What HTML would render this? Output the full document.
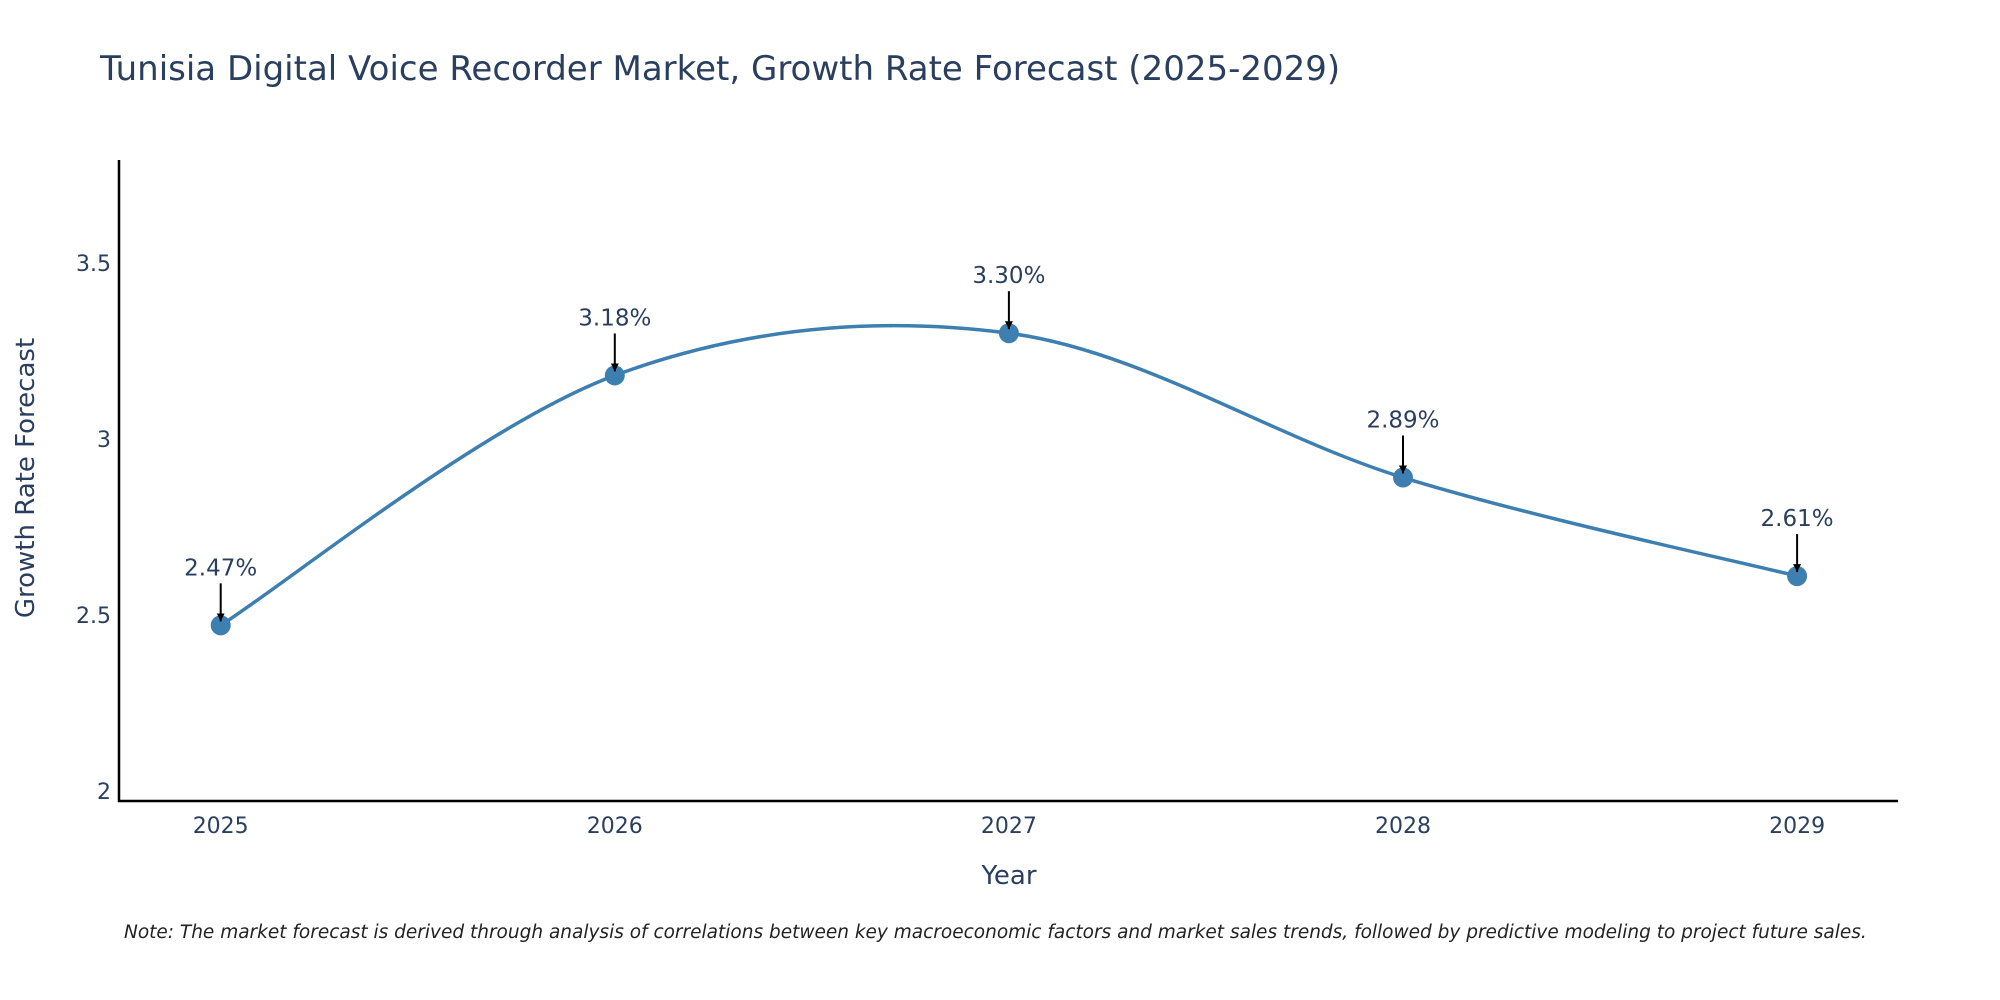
<!DOCTYPE html>
<html><head><meta charset="utf-8"><style>
html,body{margin:0;padding:0;background:#fff}
svg{display:block;font-family:"DejaVu Sans","Liberation Sans",sans-serif}
</style></head><body>
<svg id="chart" width="2000" height="1000" viewBox="0 0 2000 1000">
<text x="100" y="80" font-size="34" fill="#2a3f5f">Tunisia Digital Voice Recorder Market, Growth Rate Forecast (2025-2029)</text>
<g id="yticks"></g>
<g id="xticks"></g>
<line x1="119" y1="160" x2="119" y2="802" stroke="#000" stroke-width="2.5"/>
<line x1="118" y1="801" x2="1898" y2="801" stroke="#000" stroke-width="2.5"/>
<path id="line" fill="none" stroke="#3d7fb0" stroke-width="3.5"/>
<g id="marks"></g>
<text x="1009" y="884" font-size="26" fill="#2a3f5f" text-anchor="middle">Year</text>
<text x="34" y="478" font-size="26" fill="#2a3f5f" text-anchor="middle" transform="rotate(-90 34 478)">Growth Rate Forecast</text>
<text x="124" y="938" font-size="18.5" font-style="italic" fill="#222">Note: The market forecast is derived through analysis of correlations between key macroeconomic factors and market sales trends, followed by predictive modeling to project future sales.</text>
<defs><marker id="ah" viewBox="0 0 10 10" refX="10" refY="5" markerWidth="8" markerHeight="8" markerUnits="userSpaceOnUse" orient="auto"><path d="M0,0L10,5L0,10z" fill="#000"/></marker></defs>
</svg>
<script>
const years=[2025,2026,2027,2028,2029];
const values=[2.47,3.18,3.30,2.89,2.61];
const labels=["2.47%","3.18%","3.30%","2.89%","2.61%"];
const yTicks=[2,2.5,3,3.5];
const yTickLabels=["2","2.5","3","3.5"];
const NS="http://www.w3.org/2000/svg";
const X=v=>220.7+(v-2025)*394.1;
const Y=v=>790.8-(v-2)*352;
function mk(t,a,p){const e=document.createElementNS(NS,t);for(const k in a)e.setAttribute(k,a[k]);p.appendChild(e);return e;}
const yt=document.getElementById('yticks');
yTicks.forEach((v,i)=>{const t=mk('text',{x:111,y:Y(v)+8,'font-size':22,fill:'#2a3f5f','text-anchor':'end'},yt);


t.textContent=yTickLabels[i];});
const xt=document.getElementById('xticks');
years.forEach(v=>{const t=mk('text',{x:X(v),y:833,'font-size':22,fill:'#2a3f5f','text-anchor':'middle'},xt);


t.textContent=v;});
const P=years.map((y,i)=>[X(y),Y(values[i])]);
let d=`M${P[0][0]},${P[0][1]}`;const s=0.5;
for(let i=0;i<P.length-1;i++){const p0=P[Math.max(i-1,0)],p1=P[i],p2=P[i+1],p3=P[Math.min(i+2,P.length-1)];
const c1=[p1[0]+(p2[0]-p0[0])*s/3,p1[1]+(p2[1]-p0[1])*s/3];
const c2=[p2[0]-(p3[0]-p1[0])*s/3,p2[1]-(p3[1]-p1[1])*s/3];
d+=`C${c1[0]},${c1[1]} ${c2[0]},${c2[1]} ${p2[0]},${p2[1]}`;}
document.getElementById('line').setAttribute('d',d);
const mg=document.getElementById('marks');
P.forEach((p,i)=>{const c=mk('circle',{cx:p[0],cy:p[1],r:10,fill:'#3d7fb0'},mg);


const a=mk('line',{x1:p[0],y1:p[1]-42,x2:p[0],y2:p[1]-4,stroke:'#000','stroke-width':2,'marker-end':'url(#ah)'},mg);


const t=mk('text',{x:p[0],y:p[1]-50,'font-size':23,fill:'#2a3f5f','text-anchor':'middle'},mg);


t.textContent=labels[i];});
</script>
</body></html>
